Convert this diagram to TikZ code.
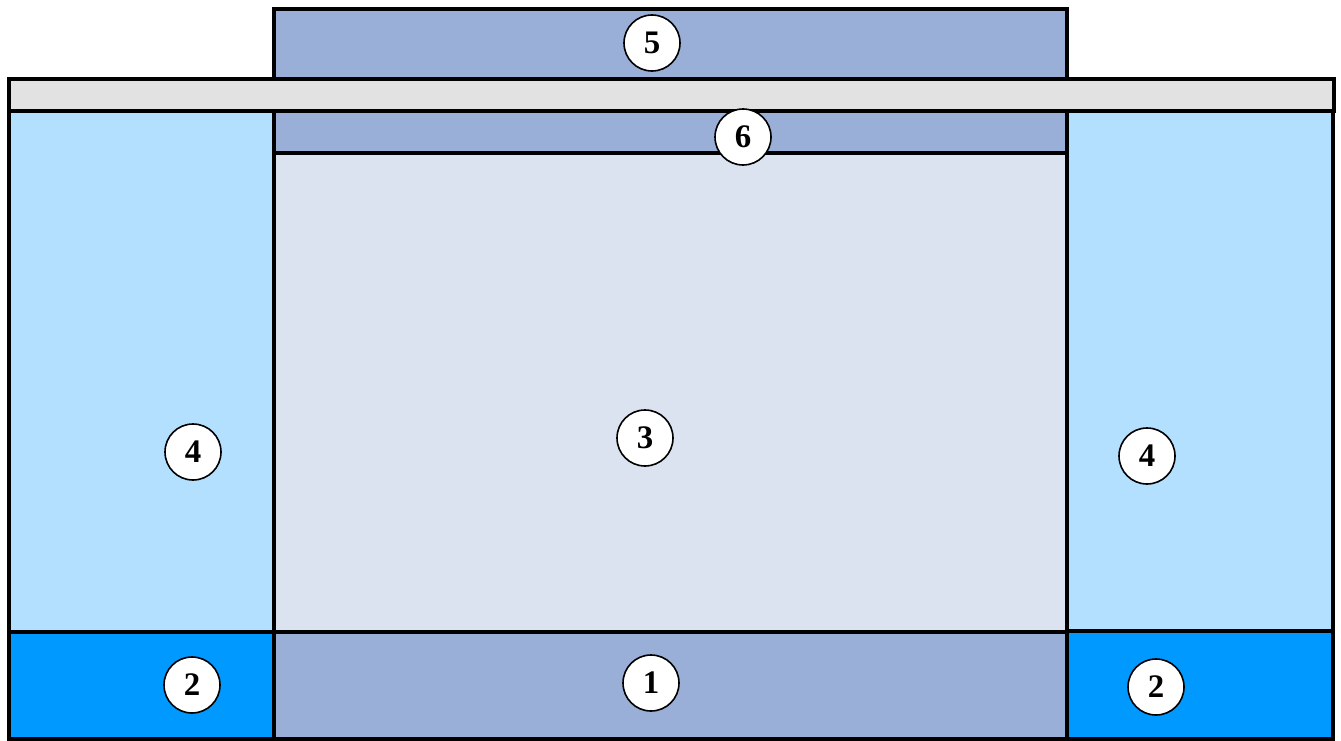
\documentclass[tikz,border=0pt]{standalone}
\usepackage{fontspec}
\setmainfont{Liberation Serif}
\usetikzlibrary{positioning}
\definecolor{slab}{RGB}{154,175,216}
\definecolor{deck}{RGB}{226,226,226}
\definecolor{wall}{RGB}{179,224,255}
\definecolor{core}{RGB}{219,226,240}
\definecolor{foot}{RGB}{0,153,255}
\tikzset{
    part/.style={draw=black, line width=4.5bp},
    num/.style={draw, circle, fill=white, line width=1.6bp, minimum size=56bp, inner sep=0pt,
        font=\bfseries\fontsize{33}{33}\selectfont}
}

\begin{document}
\begin{tikzpicture}[x=1bp, y=-1bp]
    \useasboundingbox (0,0) rectangle (1341,740);
    % body
    \draw[part, fill=core] (274,153) rectangle (1067,632);
    \draw[part, fill=wall] (9,111) rectangle (274,632);
    \draw[part, fill=wall] (1067,111) rectangle (1333,631);
    % bottom row
    \draw[part, fill=foot] (9,632) rectangle (274,739);
    \draw[part, fill=slab] (274,632) rectangle (1067,739);
    \draw[part, fill=foot] (1067,631) rectangle (1333,739);
    % top
    \draw[part, fill=slab] (274,9) rectangle (1067,79);
    \draw[part, fill=slab] (274,111) rectangle (1067,153);
    \draw[part, fill=deck] (9,79) rectangle (1334,111);
    % labels
    \node[num] (n5) at (652,43) {5};
    \node[num] (n6) at (743,137) {6};
    \node[num] (n3) at (645,438) {3};
    \node[num] (n4l) at (193,452) {4};
    \node[num] (n4r) at (1147,456) {4};
    \node[num] (n2l) at (192,685) {2};
    \node[num] (n1) at (651,683) {1};
    \node[num] (n2r) at (1156,687) {2};
\end{tikzpicture}
\end{document}
